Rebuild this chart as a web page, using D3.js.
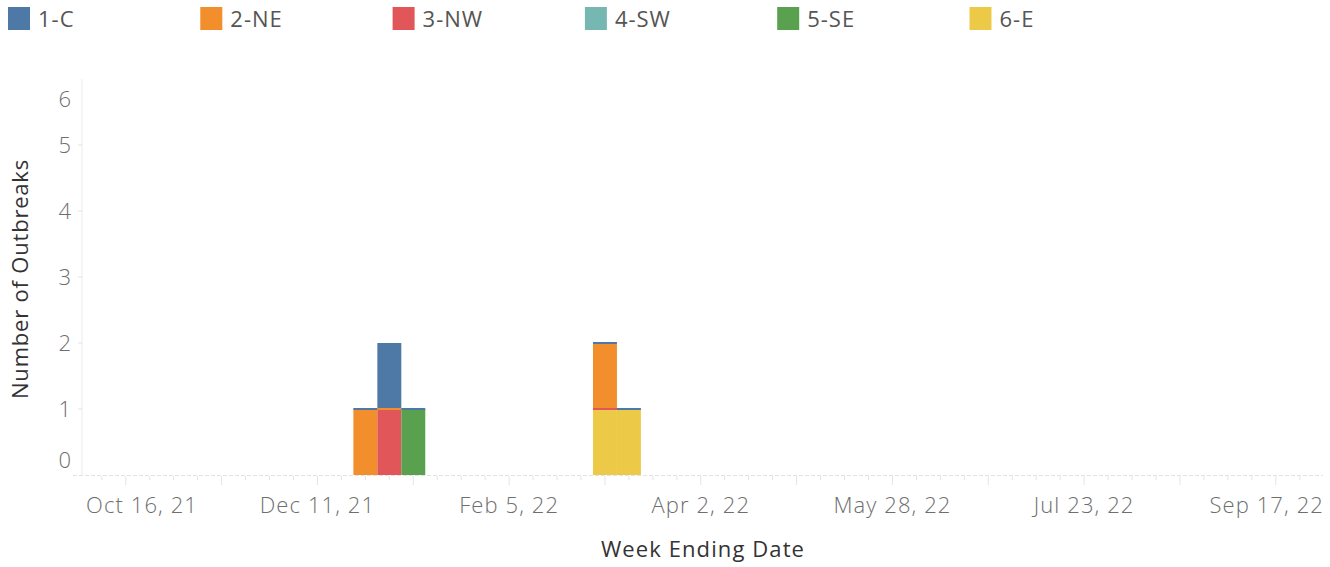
<!DOCTYPE html>
<html>
<head>
<meta charset="utf-8">
<script src="https://cdn.jsdelivr.net/npm/d3@7"></script>
<style>
  body { margin: 0; background: #fff; }
  svg { display: block; font-family: "Open Sans", Lato, sans-serif; }
</style>
</head>
<body>
<div id="chart"></div>
<script>
// Regions (legend order) and colours
const regions = ["1-C", "2-NE", "3-NW", "4-SW", "5-SE", "6-E"];
const regionColors = ["#4e79a7", "#f28e2b", "#e15759", "#76b7b2", "#59a14f", "#edc948"];

// Weeks that have records
const weeks = ["2021-12-25", "2022-01-01", "2022-01-08", "2022-03-05", "2022-03-12"];

// Outbreak counts per region for each week (null = no record, 0 = record with zero)
const c1 = [0, 1, 0, 0, 0];
const ne2 = [1, 0, null, 1, null];
const nw3 = [null, 1, null, 0, null];
const sw4 = [null, null, null, null, null];
const se5 = [null, null, 1, null, null];
const e6 = [null, null, null, 1, 1];
const seriesValues = [c1, ne2, nw3, sw4, se5, e6];

// Axis labels
const xTickLabels = ["2021-10-16", "2021-12-11", "2022-02-05", "2022-04-02", "2022-05-28", "2022-07-23", "2022-09-17"];
const yTicks = [0, 1, 2, 3, 4, 5, 6];

const width = 1330;
const height = 567;
const margin = { top: 79, right: 7, bottom: 92, left: 82 };

const parse = d3.timeParse("%Y-%m-%d");
const fmt = d3.timeFormat("%b %-d, %y");

const svg = d3.select("#chart")
    .append("svg")
    .attr("width", width)
    .attr("height", height);

// x: time scale, one week = 24px
const xScale = d3.scaleTime()
    .domain([new Date(2021, 9, 3, 5), new Date(2022, 8, 30, 19)])
    .range([margin.left, width - margin.right]);
const barW = xScale(parse("2021-10-23")) - xScale(parse("2021-10-16"));

const yScale = d3.scaleLinear()
    .domain([0, 6])
    .range([height - margin.bottom, margin.top]);

// Legend
const legend = svg.append("g").attr("class", "legend");
regions.forEach((r, i) => {
    const g = legend.append("g").attr("transform", `translate(${8 + i * 192.3}, 0)`);
    g.append("rect")
        .attr("x", 0).attr("y", 7)
        .attr("width", 22).attr("height", 23)
        .attr("fill", regionColors[i]);
    g.append("text")
        .attr("x", 30).attr("y", 19)
        .attr("dy", "0.35em")
        .style("font-size", "22px")
        .style("letter-spacing", "1px")
        .style("fill", "#555")
        .text(r);
});

// Y axis line and ticks
svg.append("line")
    .attr("x1", margin.left).attr("x2", margin.left)
    .attr("y1", margin.top).attr("y2", yScale(0))
    .attr("stroke", "#ececec");

const yAxis = svg.append("g").attr("class", "y-axis");
yAxis.selectAll("line")
    .data(yTicks.filter(d => d > 0 && d < 6))
    .enter().append("line")
    .attr("x1", margin.left - 4).attr("x2", margin.left)
    .attr("y1", d => yScale(d)).attr("y2", d => yScale(d))
    .attr("stroke", "#e2e2e2");
yAxis.selectAll("text")
    .data(yTicks)
    .enter().append("text")
    .attr("x", 71)
    .attr("y", d => yScale(d) + (d === 0 ? -15 : d === 6 ? 20 : 0))
    .attr("dy", "0.35em")
    .attr("text-anchor", "end")
    .style("font-size", "22px")
    .style("font-weight", 300)
    .style("fill", "#6e6e6e")
    .text(d => d);

svg.append("text")
    .attr("transform", `translate(20, ${(margin.top + yScale(0)) / 2 + 2}) rotate(-90)`)
    .attr("text-anchor", "middle")
    .attr("dy", "0.35em")
    .style("font-size", "22px")
    .style("letter-spacing", "0.8px")
    .style("fill", "#333")
    .text("Number of Outbreaks");

// X axis: dashed baseline, weekly ticks, labels every 8 weeks
const y0 = yScale(0);
svg.append("line")
    .attr("x1", 73).attr("x2", width - margin.right)
    .attr("y1", y0 + 0.5).attr("y2", y0 + 0.5)
    .attr("stroke", "#e2e2e2")
    .attr("stroke-dasharray", "4,2");

const firstLabel = parse(xTickLabels[0]);
const allWeeks = d3.range(-1, 51).map(i => d3.timeDay.offset(firstLabel, i * 7));
svg.append("g").selectAll("line")
    .data(allWeeks.filter(d => xScale(d) > margin.left && xScale(d) < width - margin.right))
    .enter().append("line")
    .attr("x1", d => xScale(d)).attr("x2", d => xScale(d))
    .attr("y1", y0 + 1)
    .attr("y2", d => y0 + (Math.round(d3.timeDay.count(firstLabel, d) / 7) % 4 === 0 ? 10 : 5))
    .attr("stroke", "#e4e4e4");

svg.append("g").selectAll("text")
    .data(xTickLabels.map(parse))
    .enter().append("text")
    .attr("x", d => xScale(d))
    .attr("y", 505)
    .attr("dy", "0.35em")
    .attr("text-anchor", "middle")
    .style("font-size", "22px")
    .style("letter-spacing", "1.1px")
    .style("font-weight", 300)
    .style("fill", "#6e6e6e")
    .text(d => fmt(d))
    .each(function() {
        // keep the edge labels inside the plot width
        const bb = this.getBBox();
        const x = +d3.select(this).attr("x");
        if (bb.x < 86) d3.select(this).attr("x", x + (86 - bb.x));
        if (bb.x + bb.width > width - 6) d3.select(this).attr("x", x - (bb.x + bb.width - (width - 6)));
    });

svg.append("text")
    .attr("x", 703).attr("y", 549)
    .attr("dy", "0.35em")
    .attr("text-anchor", "middle")
    .style("font-size", "22px")
    .style("letter-spacing", "1.1px")
    .style("fill", "#333")
    .text("Week Ending Date");

// Stacked bars: bottom-up order is 6-E ... 1-C
const stackOrder = d3.range(regions.length).reverse();
const segments = [];
weeks.forEach((w, wi) => {
    let acc = 0;
    stackOrder.forEach(ri => {
        const v = seriesValues[ri][wi];
        if (v === null) return;
        segments.push({ week: parse(w), region: ri, y0: acc, y1: acc + v, value: v });
        acc += v;
    });
});

const bars = svg.append("g").attr("class", "bars");
bars.selectAll("rect.seg")
    .data(segments.filter(d => d.value > 0))
    .enter().append("rect")
    .attr("class", "seg")
    .attr("x", d => xScale(d.week) - barW / 2)
    .attr("y", d => yScale(d.y1))
    .attr("width", barW)
    .attr("height", d => yScale(d.y0) - yScale(d.y1))
    .attr("fill", d => regionColors[d.region]);

// zero-count records show as thin slivers
bars.selectAll("rect.zero")
    .data(segments.filter(d => d.value === 0))
    .enter().append("rect")
    .attr("class", "zero")
    .attr("x", d => xScale(d.week) - barW / 2)
    .attr("y", d => yScale(d.y1) - 1)
    .attr("width", barW)
    .attr("height", 2)
    .attr("fill", d => regionColors[d.region]);
</script>
</body>
</html>
